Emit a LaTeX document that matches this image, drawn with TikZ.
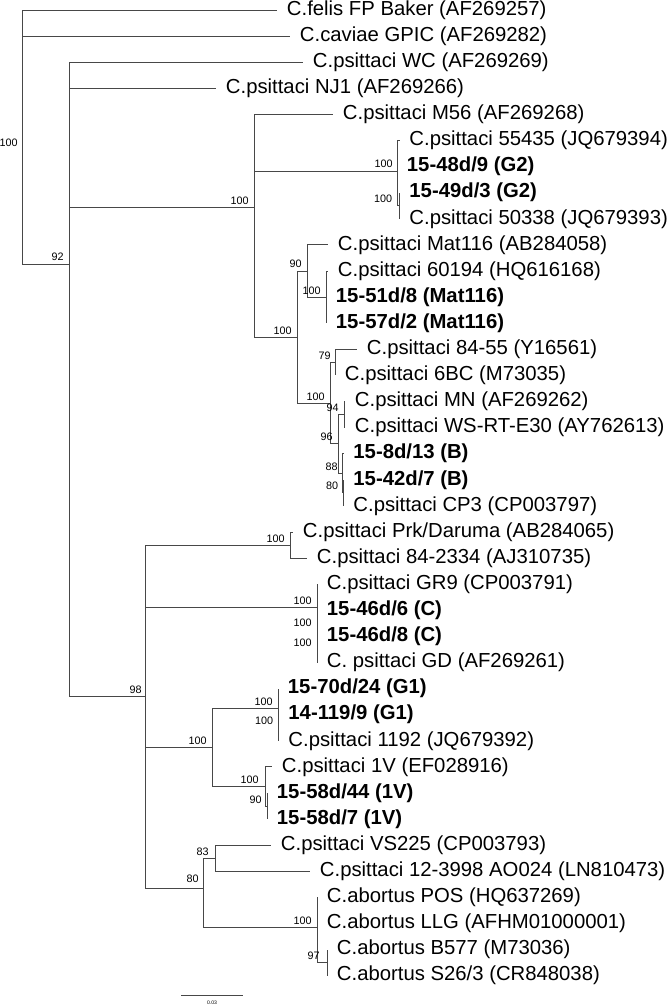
\documentclass[tikz,border=0pt]{standalone}
\usepackage{fontspec}
\setmainfont{Liberation Sans}
\begin{document}
\begin{tikzpicture}[x=1pt,y=-1pt,line width=0.9pt,
  branch/.style={draw=black!72},
  leaf/.style={anchor=west,inner sep=0pt,xshift=9.5pt,font=\fontsize{20.3}{24}\selectfont},
  iso/.style={leaf,font=\fontsize{20.3}{24}\selectfont\bfseries},
  bs/.style={anchor=south east,inner sep=0pt,font=\fontsize{10.8}{12}\selectfont}]
  \useasboundingbox (0,0) rectangle (668,1007);
  % internal nodes (x = distance, y = mean of children)
  \coordinate (root)  at (22,143);
  \coordinate (n92)   at (69,264);
  \coordinate (n100a) at (254,207.5);
  \coordinate (nG2)   at (397,170.95);
  \coordinate (nG2in) at (399.5,205.75);
  \coordinate (nMB)   at (297,337.05);
  \coordinate (n90)   at (307,271);
  \coordinate (n100m) at (326,297.1);
  \coordinate (nB)    at (330,403.1);
  \coordinate (n79)   at (335,362.35);
  \coordinate (n96)   at (338,443.9);
  \coordinate (n94)   at (344,414.55);
  \coordinate (n88)   at (342,473.3);
  \coordinate (n80b)  at (343.5,492.85);
  \coordinate (n98)   at (145,696.9);
  \coordinate (nPrk)  at (290,545.05);
  \coordinate (nC)    at (317,607.05);
  \coordinate (nC2)   at (317,629.9);
  \coordinate (nC3)   at (317,649.45);
  \coordinate (nG1V)  at (212,747.35);
  \coordinate (nG1)   at (278,708.2);
  \coordinate (nG1in) at (278.5,727.75);
  \coordinate (n1V)   at (265,786.5);
  \coordinate (n90v)  at (267,806.05);
  \coordinate (n80)   at (203,888);
  \coordinate (n83)   at (215,858.25);
  \coordinate (nAb)   at (317,927.85);
  \coordinate (n97)   at (327,962.65);
  % leaf tips
  \coordinate (t1)  at (277,10);
  \coordinate (t2)  at (290,36.1);
  \coordinate (t3)  at (303,62.2);
  \coordinate (t4)  at (216,88.3);
  \coordinate (t5)  at (333,114.4);
  \coordinate (t6)  at (399.5,140.5);
  \coordinate (t7)  at (397,166.6);
  \coordinate (t8)  at (399.5,192.7);
  \coordinate (t9)  at (399.5,218.8);
  \coordinate (t10) at (328,244.9);
  \coordinate (t11) at (328,271);
  \coordinate (t12) at (326,297.1);
  \coordinate (t13) at (326,323.2);
  \coordinate (t14) at (357,349.3);
  \coordinate (t15) at (335,375.4);
  \coordinate (t16) at (345,401.5);
  \coordinate (t17) at (345,427.6);
  \coordinate (t18) at (343.5,453.7);
  \coordinate (t19) at (343.5,479.8);
  \coordinate (t20) at (343.5,505.9);
  \coordinate (t21) at (293,532);
  \coordinate (t22) at (307,558.1);
  \coordinate (t23) at (317,584.2);
  \coordinate (t24) at (317,610.3);
  \coordinate (t25) at (317,636.4);
  \coordinate (t26) at (317,662.5);
  \coordinate (t27) at (278,688.6);
  \coordinate (t28) at (278.5,714.7);
  \coordinate (t29) at (278.5,740.8);
  \coordinate (t30) at (272,766.9);
  \coordinate (t31) at (267,793);
  \coordinate (t32) at (267,819.1);
  \coordinate (t33) at (271,845.2);
  \coordinate (t34) at (310,871.3);
  \coordinate (t35) at (317,897.4);
  \coordinate (t36) at (317,923.5);
  \coordinate (t37) at (327,949.6);
  \coordinate (t38) at (327,975.7);
  % branches
  \foreach \p/\c in {root/t1,root/t2,root/n92,
      n92/t3,n92/t4,n92/n100a,n92/n98,
      n100a/t5,n100a/nG2,n100a/nMB,
      nG2/t6,nG2/t7,nG2/nG2in,nG2in/t8,nG2in/t9,
      nMB/n90,nMB/nB,n90/t10,n90/n100m,n100m/t11,n100m/t12,n100m/t13,
      nB/n79,nB/n96,n79/t14,n79/t15,n96/n94,n96/n88,n94/t16,n94/t17,
      n88/t18,n88/n80b,n80b/t19,n80b/t20,
      n98/nPrk,n98/nC,n98/nG1V,n98/n80,
      nPrk/t21,nPrk/t22,nC/t23,nC/nC2,nC2/t24,nC2/nC3,nC3/t25,nC3/t26,
      nG1V/nG1,nG1V/n1V,nG1/t27,nG1/nG1in,nG1in/t28,nG1in/t29,
      n1V/t30,n1V/n90v,n90v/t31,n90v/t32,
      n80/n83,n80/nAb,n83/t33,n83/t34,nAb/t35,nAb/t36,nAb/n97,n97/t37,n97/t38}
    \draw[branch] (\p) |- (\c);
  % taxa
  \node[leaf] (l1)  at (t1)  {C.felis FP Baker (AF269257)};
  \node[leaf] (l2)  at (t2)  {C.caviae GPIC (AF269282)};
  \node[leaf] (l3)  at (t3)  {C.psittaci WC (AF269269)};
  \node[leaf] (l4)  at (t4)  {C.psittaci NJ1 (AF269266)};
  \node[leaf] (l5)  at (t5)  {C.psittaci M56 (AF269268)};
  \node[leaf] (l6)  at (t6)  {C.psittaci 55435 (JQ679394)};
  \node[iso]  (l7)  at (t7)  {15-48d/9 (G2)};
  \node[iso]  (l8)  at (t8)  {15-49d/3 (G2)};
  \node[leaf] (l9)  at (t9)  {C.psittaci 50338 (JQ679393)};
  \node[leaf] (l10) at (t10) {C.psittaci Mat116 (AB284058)};
  \node[leaf] (l11) at (t11) {C.psittaci 60194 (HQ616168)};
  \node[iso]  (l12) at (t12) {15-51d/8 (Mat116)};
  \node[iso]  (l13) at (t13) {15-57d/2 (Mat116)};
  \node[leaf] (l14) at (t14) {C.psittaci 84-55 (Y16561)};
  \node[leaf] (l15) at (t15) {C.psittaci 6BC (M73035)};
  \node[leaf] (l16) at (t16) {C.psittaci MN (AF269262)};
  \node[leaf] (l17) at (t17) {C.psittaci WS-RT-E30 (AY762613)};
  \node[iso]  (l18) at (t18) {15-8d/13 (B)};
  \node[iso]  (l19) at (t19) {15-42d/7 (B)};
  \node[leaf] (l20) at (t20) {C.psittaci CP3 (CP003797)};
  \node[leaf] (l21) at (t21) {C.psittaci Prk/Daruma (AB284065)};
  \node[leaf] (l22) at (t22) {C.psittaci 84-2334 (AJ310735)};
  \node[leaf] (l23) at (t23) {C.psittaci GR9 (CP003791)};
  \node[iso]  (l24) at (t24) {15-46d/6 (C)};
  \node[iso]  (l25) at (t25) {15-46d/8 (C)};
  \node[leaf] (l26) at (t26) {C. psittaci GD (AF269261)};
  \node[iso]  (l27) at (t27) {15-70d/24 (G1)};
  \node[iso]  (l28) at (t28) {14-119/9 (G1)};
  \node[leaf] (l29) at (t29) {C.psittaci 1192 (JQ679392)};
  \node[leaf] (l30) at (t30) {C.psittaci 1V (EF028916)};
  \node[iso]  (l31) at (t31) {15-58d/44 (1V)};
  \node[iso]  (l32) at (t32) {15-58d/7 (1V)};
  \node[leaf] (l33) at (t33) {C.psittaci VS225 (CP003793)};
  \node[leaf] (l34) at (t34) {C.psittaci 12-3998 AO024 (LN810473)};
  \node[leaf] (l35) at (t35) {C.abortus POS (HQ637269)};
  \node[leaf] (l36) at (t36) {C.abortus LLG (AFHM01000001)};
  \node[leaf] (l37) at (t37) {C.abortus B577 (M73036)};
  \node[leaf] (l38) at (t38) {C.abortus S26/3 (CR848038)};
  % bootstrap values
  \node[bs,anchor=east] (broot) at ([xshift=-4pt]root) {100};
  \node[bs] (b92)   at ([shift={(-5,-2.5)}]n92)   {92};
  \node[bs] (b100a) at ([shift={(-5,-2.5)}]n100a) {100};
  \node[bs] (bG2)   at ([shift={(-4,-2.5)}]nG2)   {100};
  \node[bs] (bG2in) at ([shift={(-7,-2.5)}]nG2in) {100};
  \node[bs] (bMB)   at ([shift={(-5,-2.5)}]nMB)   {100};
  \node[bs] (b90)   at ([shift={(-5,-2.5)}]n90)   {90};
  \node[bs] (b100m) at ([shift={(-5,-2.5)}]n100m) {100};
  \node[bs] (bB)    at ([shift={(-5,-2.5)}]nB)    {100};
  \node[bs] (b79)   at ([shift={(-4,-2.5)}]n79)   {79};
  \node[bs] (b96)   at ([shift={(-5,-2.5)}]n96)   {96};
  \node[bs] (b94)   at ([shift={(-5,-2.5)}]n94)   {94};
  \node[bs] (b88)   at ([shift={(-4,-2.5)}]n88)   {88};
  \node[bs] (b80b)  at ([shift={(-5,-2.5)}]n80b)  {80};
  \node[bs] (b98)   at ([shift={(-3,-2.5)}]n98)   {98};
  \node[bs] (bPrk)  at ([shift={(-5,-2.5)}]nPrk)  {100};
  \node[bs] (bC)    at ([shift={(-5,-2.5)}]nC)    {100};
  \node[bs] (bC2)   at ([shift={(-5,-2.5)}]nC2)   {100};
  \node[bs] (bC3)   at ([shift={(-5,-2.5)}]nC3)   {100};
  \node[bs] (bG1V)  at ([shift={(-5,-2.5)}]nG1V)  {100};
  \node[bs] (bG1)   at ([shift={(-5,-2.5)}]nG1)   {100};
  \node[bs] (bG1in) at ([shift={(-5,-2.5)}]nG1in) {100};
  \node[bs] (b1V)   at ([shift={(-6,-2.5)}]n1V)   {100};
  \node[bs] (b90v)  at ([shift={(-5,-2.5)}]n90v)  {90};
  \node[bs] (b83)   at ([shift={(-6,-2.5)}]n83)   {83};
  \node[bs] (b80)   at ([shift={(-4,-4.5)}]n80)   {80};
  \node[bs] (bAb)   at ([shift={(-5,-2.5)}]nAb)   {100};
  \node[bs] (b97)   at ([shift={(-7,-2.5)}]n97)   {97};
  % scale bar
  \coordinate (sbL) at (181,995);
  \coordinate (sbR) at (243,995);
  \draw[branch] (sbL) -- (sbR);
  \node[inner sep=0pt,font=\fontsize{5.1}{6}\selectfont] (sbtxt) at (212,1003) {0.03};
\end{tikzpicture}
\end{document}
